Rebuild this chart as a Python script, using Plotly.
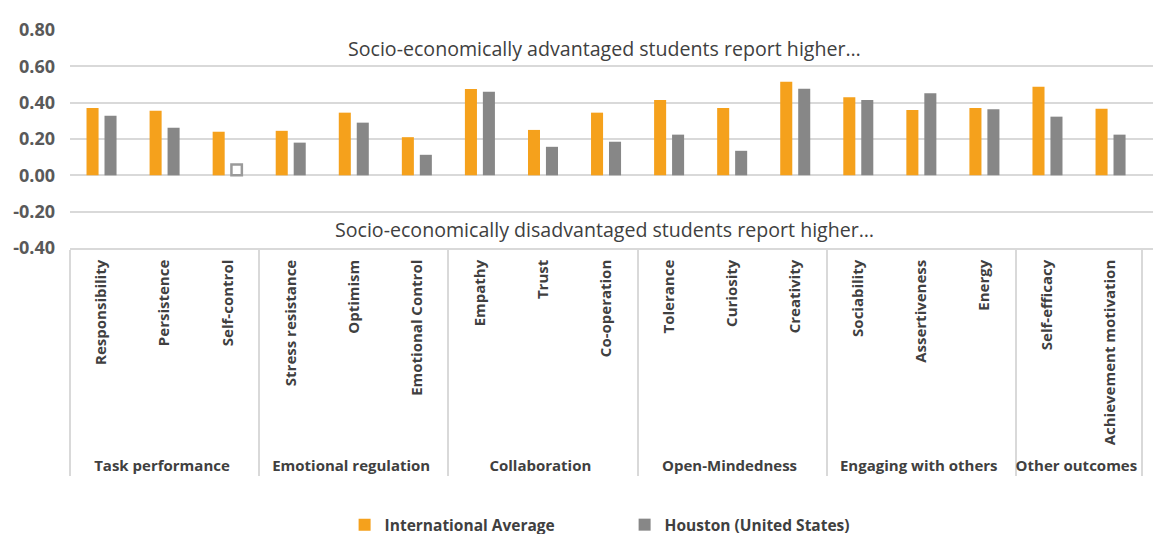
import plotly.graph_objects as go

groups = ["Task performance"] * 3 + ["Emotional regulation"] * 3 + ["Collaboration"] * 3 + \
         ["Open-Mindedness"] * 3 + ["Engaging with others"] * 3 + ["Other outcomes"] * 2
skills = ["Responsibility", "Persistence", "Self-control",
          "Stress resistance", "Optimism", "Emotional Control",
          "Empathy", "Trust", "Co-operation",
          "Tolerance", "Curiosity", "Creativity",
          "Sociability", "Assertiveness", "Energy",
          "Self-efficacy", "Achievement motivation"]
international = [0.37, 0.355, 0.24, 0.245, 0.345, 0.21, 0.475, 0.25, 0.345,
                 0.415, 0.37, 0.515, 0.43, 0.36, 0.37, 0.487, 0.366]
houston = [0.328, 0.262, 0.06, 0.18, 0.29, 0.113, 0.46, 0.157, 0.185,
           0.224, 0.135, 0.476, 0.414, 0.452, 0.364, 0.323, 0.224]
houston_significant = [True, True, False, True, True, True, True, True, True,
                       True, True, True, True, True, True, True, True]
ytick_vals = [-0.4, -0.2, 0.0, 0.2, 0.4, 0.6, 0.8]
ytick_text = ["-0.40", "-0.20", "0.00", "0.20", "0.40", "0.60", "0.80"]
note_top = "Socio-economically advantaged students report higher…"
note_bottom = "Socio-economically disadvantaged students report higher…"

ORANGE = "#F5A11C"
GRAY = "#878787"
FONT = "Open Sans"

h_colors = [GRAY if s else "white" for s in houston_significant]
h_line_w = [0 if s else 2.5 for s in houston_significant]
h_line_c = [GRAY if s else "#9a9a9a" for s in houston_significant]
h_width = [0.191 if s else 0.165 for s in houston_significant]

fig = go.Figure()
fig.add_trace(go.Bar(
    x=[groups, skills], y=international, name="International Average",
    marker=dict(color=ORANGE, line=dict(width=0)),
))
fig.add_trace(go.Bar(
    x=[groups, skills], y=houston, name="Houston (United States)",
    width=h_width,
    marker=dict(color=h_colors, line=dict(width=h_line_w, color=h_line_c)),
))

fig.add_annotation(text=note_top, x=0.49, y=0.7, xref="paper", yref="y",
                   showarrow=False, font=dict(family=FONT, size=19.6, color="#404040"))
fig.add_annotation(text=note_bottom, x=0.49, y=-0.3, xref="paper", yref="y",
                   showarrow=False, font=dict(family=FONT, size=19.6, color="#404040"))

# page body has an 8px default margin, so the figure is sized/offset to compensate
fig.update_layout(
    width=1153, height=560,
    margin=dict(l=62, r=0, t=22, b=320),
    paper_bgcolor="white", plot_bgcolor="white",
    barmode="group", bargap=0.43, bargroupgap=0.33,
    font=dict(family=FONT, color="#404040"),
    legend=dict(orientation="h", x=0.2517, y=-1.271, xanchor="left", yanchor="middle",
                font=dict(family=FONT, size=15.5, color="#404040", weight="bold"),
                entrywidth=235, entrywidthmode="pixels"),
    showlegend=True,
)
fig.update_yaxes(
    range=[-0.4, 0.8], tickvals=ytick_vals, ticktext=ytick_text,
    showgrid=True, gridcolor="#d9d9d9", gridwidth=1.5,
    zeroline=True, zerolinecolor="#d9d9d9", zerolinewidth=1.5,
    tickfont=dict(family=FONT, size=18, color="#595959", weight="bold"),
    ticklabelstandoff=14, showline=False, automargin=False,
)
fig.update_xaxes(
    tickangle=-90, showline=True, linecolor="#d9d9d9", linewidth=1.5,
    tickfont=dict(family=FONT, size=15, color="#404040", weight="bold"),
    showdividers=True, dividercolor="#d9d9d9", dividerwidth=1.5,
    ticklabelstandoff=4,
    range=[-0.5, 16.8], automargin=False,
)

fig.write_html("out.html")
